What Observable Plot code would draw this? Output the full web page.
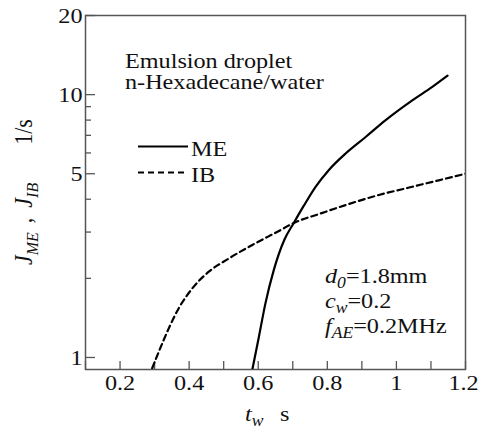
<!DOCTYPE html>
<html>
<head>
<meta charset="utf-8">
<script src="https://cdn.jsdelivr.net/npm/d3@7"></script>
<script src="https://cdn.jsdelivr.net/npm/@observablehq/plot@0.6"></script>
<style>
  body { margin: 0; background: #fff; }
  #chart svg { display: block; }
</style>
</head>
<body>
<div id="chart"></div>
<script>
// ME (solid) series: t_w [s], J_ME [1/s]
const meT = [0.583, 0.602, 0.621, 0.645, 0.676, 0.703, 0.732, 0.766, 0.804, 0.853, 0.911, 0.968, 1.046, 1.104, 1.148];
const meJ = [0.90, 1.20, 1.61, 2.15, 2.81, 3.25, 3.78, 4.46, 5.16, 5.97, 6.90, 7.98, 9.51, 10.7, 11.8];
// IB (dashed) series
const ibT = [0.293, 0.312, 0.341, 0.370, 0.409, 0.457, 0.515, 0.583, 0.660, 0.703, 0.775, 0.853, 0.949, 1.046, 1.2];
const ibJ = [0.91, 1.05, 1.29, 1.54, 1.83, 2.12, 2.38, 2.68, 3.03, 3.25, 3.51, 3.80, 4.15, 4.46, 5.00];
// Axis ticks
const xTicks = [0.1, 0.2, 0.3, 0.4, 0.5, 0.6, 0.7, 0.8, 0.9, 1.0, 1.1, 1.2];
const xLabels = [0.2, 0.4, 0.6, 0.8, 1.0, 1.2];
const yMajor = [1, 5, 10, 20];
const yMinor = [2, 3, 4, 6, 7, 8, 9];
const xDomain = [0.1, 1.2];
const yDomain = [0.9, 20];

const me = meT.map((t, i) => ({t, j: meJ[i]}));
const ib = ibT.map((t, i) => ({t, j: ibJ[i]}));

const FONT = '"Liberation Serif", "Times New Roman", serif';
const AX = "#555";
const SX = 1.1; // horizontal stretch of the reference typography

const plot = Plot.plot({
  width: 479,
  height: 430,
  marginLeft: 85,
  marginRight: 14,
  marginTop: 15,
  marginBottom: 61,
  style: {fontFamily: FONT, fontSize: "22px", color: "#111", background: "#fff"},
  x: {domain: xDomain, label: null},
  y: {type: "log", domain: yDomain, label: null},
  marks: [
    Plot.frame({stroke: AX, strokeWidth: 1.5}),
    Plot.axisX({ticks: xTicks, tickSize: -8, text: null, stroke: AX, strokeWidth: 1.3, label: null}),
    Plot.axisX({ticks: xLabels, tickSize: 0, tickPadding: 5, tickFormat: d => String(+d.toFixed(1)), label: null, fontSize: 22}),
    Plot.axisY({ticks: yMajor, tickSize: -10, text: null, stroke: AX, strokeWidth: 1.3, label: null}),
    Plot.axisY({ticks: yMinor, tickSize: -6, text: null, stroke: AX, strokeWidth: 1.3, label: null}),
    Plot.axisY({ticks: yMajor, tickSize: 0, tickPadding: 3, tickFormat: d => String(d), label: null, fontSize: 22}),
    Plot.line(ib, {x: "t", y: "j", stroke: "#000", strokeWidth: 2.2, strokeDasharray: "6,4", curve: "monotone-x", clip: true}),
    Plot.line(me, {x: "t", y: "j", stroke: "#000", strokeWidth: 2.2, curve: "monotone-x", clip: true})
  ]
});

// stretch the tick labels horizontally like the reference typography
plot.querySelectorAll("text").forEach(t => {
  const tr = t.getAttribute("transform") || "";
  const nudge = t.textContent === "1.2" ? " translate(-2,0)" : "";
  t.setAttribute("transform", `${tr}${nudge} scale(${SX},1)`);
});

document.getElementById("chart").appendChild(plot);

// Text annotations, legend and axis titles (with italic/subscript parts)
const svg = d3.select(plot);
const g = svg.append("g")
  .attr("font-family", FONT).attr("font-size", 22).attr("fill", "#111")
  .attr("text-anchor", "start");

function rich(x, y, parts, rotate) {
  const t = g.append("text").attr("x", 0).attr("y", 0)
    .attr("transform", `translate(${x},${y}) scale(${SX},1)${rotate ? " rotate(-90)" : ""}`);
  for (const p of parts) {
    const s = t.append("tspan").text(p.s);
    if (p.i) s.attr("font-style", "italic");
    if (p.sub) s.attr("font-size", 16).attr("dy", 5);
    if (p.up) s.attr("dy", -5);
    if (p.dx) s.attr("dx", p.dx);
  }
  return t;
}

// Title block
rich(125, 68, [{s: "Emulsion droplet"}]);
rich(125, 89, [{s: "n-Hexadecane/water"}]);

// Legend
g.append("line").attr("x1", 138).attr("x2", 188).attr("y1", 146.5).attr("y2", 146.5).attr("stroke", "#000").attr("stroke-width", 2.2);
g.append("line").attr("x1", 138).attr("x2", 188).attr("y1", 172.5).attr("y2", 172.5).attr("stroke", "#000").attr("stroke-width", 2.2).attr("stroke-dasharray", "6,4");
rich(191, 156, [{s: "ME"}]);
rich(191, 182, [{s: "IB"}]);

// Parameter annotation
rich(325, 283, [{s: "d", i: true}, {s: "0", i: true, sub: true}, {s: "=1.8mm", up: true}]);
rich(325, 308, [{s: "c", i: true}, {s: "w", i: true, sub: true}, {s: "=0.2", up: true}]);
rich(325, 333, [{s: "f", i: true}, {s: "AE", i: true, sub: true}, {s: "=0.2MHz", up: true}]);

// X-axis title
rich(245, 421, [{s: "t", i: true}, {s: "w", i: true, sub: true}, {s: "s", up: true, dx: 15}]);

// Y-axis title (rotated)
rich(32, 265, [
  {s: "J", i: true}, {s: "ME", i: true, sub: true},
  {s: ",", up: true, dx: 9},
  {s: "J", i: true, dx: 10}, {s: "IB", i: true, sub: true},
  {s: "1/s", up: true, dx: 38}
], true);
</script>
</body>
</html>
